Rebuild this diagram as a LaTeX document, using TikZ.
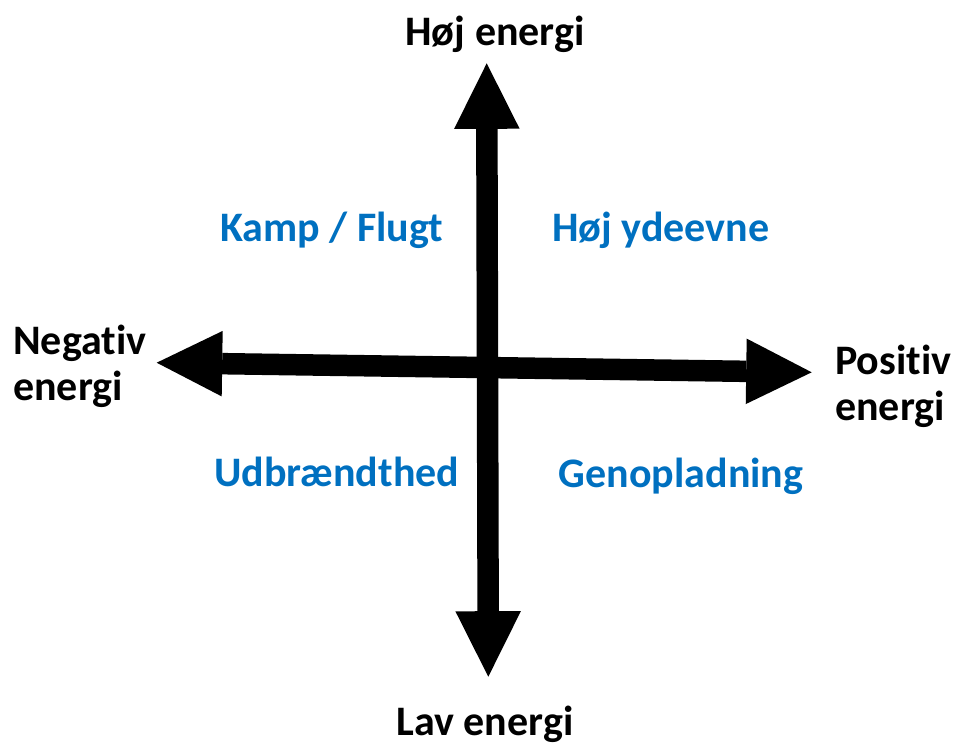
\documentclass[tikz,border=0pt]{standalone}
\usepackage{fontspec}
\setmainfont[Ligatures=NoCommon]{Carlito}
\usetikzlibrary{arrows.meta}
\definecolor{qblue}{HTML}{0070C0}
\tikzset{
  axisarrow/.style={line width=21.5pt,
    arrows={Triangle[length=65.5pt,width=65.5pt,line width=0pt]-Triangle[length=65.5pt,width=65.5pt,line width=0pt]}},
  axislabel/.style={font=\fontsize{42pt}{46pt}\selectfont\bfseries, text=black, inner sep=0pt},
  quadlabel/.style={font=\fontsize{42pt}{46pt}\selectfont\bfseries, text=qblue, inner sep=0pt}
}
\begin{document}
\begin{tikzpicture}[x=1pt,y=-1pt]
\useasboundingbox (0,0) rectangle (960,745);
\coordinate (top) at (486.7,63.3);
\coordinate (bottom) at (488.3,676.7);
\coordinate (left) at (156.7,362.7);
\coordinate (right) at (811.7,372.3);
\draw[axisarrow] (bottom) -- (top);
\draw[axisarrow] (left) -- (right);
\node[axislabel, anchor=base] (hoej) at (495,45) {Høj energi};
\node[axislabel, anchor=base] (lav) at (485,735) {Lav energi};
\node[axislabel, anchor=north west, align=left] (neg) at (13,325) {Negativ\\energi};
\node[axislabel, anchor=north west, align=left] (pos) at (835,345) {Positiv\\energi};
\node[quadlabel, anchor=base] (kamp) at (331.7,241) {Kamp / Flugt};
\node[quadlabel, anchor=base] (ydeevne) at (660.8,241) {Høj ydeevne};
\node[quadlabel, anchor=base] (udbraendt) at (336.7,486) {Udbrændthed};
\node[quadlabel, anchor=base] (genop) at (681,487) {Genopladning};
\end{tikzpicture}
\end{document}
